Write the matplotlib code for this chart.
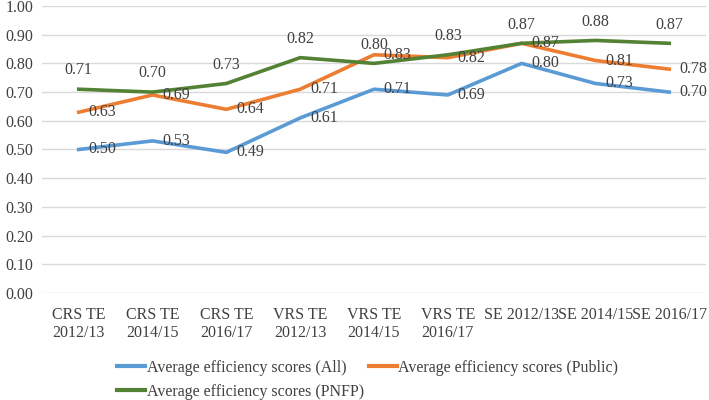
import matplotlib.pyplot as plt
import numpy as np

plt.rcParams['font.family'] = ['Liberation Serif', 'DejaVu Serif']

categories = ["CRS TE\n2012/13", "CRS TE\n2014/15", "CRS TE\n2016/17",
              "VRS TE\n2012/13", "VRS TE\n2014/15", "VRS TE\n2016/17",
              "SE 2012/13", "SE 2014/15", "SE 2016/17"]
all_scores = [0.50, 0.53, 0.49, 0.61, 0.71, 0.69, 0.80, 0.73, 0.70]
public_scores = [0.63, 0.69, 0.64, 0.71, 0.83, 0.82, 0.87, 0.81, 0.78]
pnfp_scores = [0.71, 0.70, 0.73, 0.82, 0.80, 0.83, 0.87, 0.88, 0.87]

fig = plt.figure(figsize=(7.09, 4.0), dpi=100)
ax = fig.add_axes([0.059, 0.2675, 0.937, 0.7175])
x = np.arange(len(categories))

l1, = ax.plot(x, all_scores, color='#5B9BD5', lw=2.6, label='Average efficiency scores (All)')
l2, = ax.plot(x, public_scores, color='#ED7D31', lw=2.6, label='Average efficiency scores (Public)')
l3, = ax.plot(x, pnfp_scores, color='#548235', lw=2.6, label='Average efficiency scores (PNFP)')

fs = 11.5
for i in x:
    ax.annotate(f"{all_scores[i]:.2f}", (i, all_scores[i]), xytext=(7, 0),
                textcoords='offset points', ha='left', va='center', fontsize=fs, color='#404040')
    ax.annotate(f"{public_scores[i]:.2f}", (i, public_scores[i]), xytext=(7, 0),
                textcoords='offset points', ha='left', va='center', fontsize=fs, color='#404040')
    ax.annotate(f"{pnfp_scores[i]:.2f}", (i, pnfp_scores[i]), xytext=(0, 13.5),
                textcoords='offset points', ha='center', va='center', fontsize=fs, color='#404040')

ax.set_xlim(-0.5, len(categories) - 0.5)
ax.set_ylim(0, 1.0)
ax.set_yticks(np.arange(0, 1.01, 0.1))
ax.set_yticklabels([f"{v:.2f}" for v in np.arange(0, 1.01, 0.1)])
ax.set_xticks(x)
ax.set_xticklabels(categories)
ax.tick_params(axis='both', length=0, labelsize=fs, colors='#404040')
ax.tick_params(axis='y', pad=6)
ax.tick_params(axis='x', pad=10)
ax.grid(axis='y', color='#D9D9D9', lw=1)
ax.set_axisbelow(True)
for s in ax.spines.values():
    s.set_visible(False)

leg = fig.legend([l1, l3, l2], [l1.get_label(), l3.get_label(), l2.get_label()],
                 loc='lower left', bbox_to_anchor=(0.145, -0.035), ncol=2, frameon=False,
                 fontsize=fs, handlelength=1.75, handletextpad=0.1, columnspacing=0.3,
                 labelspacing=0.5)
for t in leg.get_texts():
    t.set_color('#404040')
for h in leg.get_lines():
    h.set_linewidth(3)

fig.savefig('out.png', dpi=100)
